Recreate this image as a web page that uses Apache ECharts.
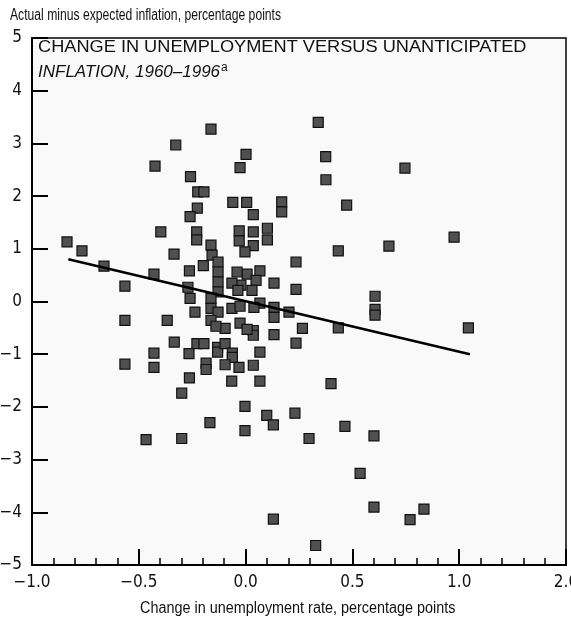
<!DOCTYPE html>
<html>
<head>
<meta charset="utf-8">
<script src="https://cdn.jsdelivr.net/npm/echarts@6/dist/echarts.min.js"></script>
<style>
  html, body { margin: 0; padding: 0; background: #ffffff; }
  #chart { width: 571px; height: 619px; }
</style>
</head>
<body>
<div id="chart"></div>
<script>
// ---- data ----
const changeUnemp = [
  -0.836, -0.766, -0.663, -0.565, -0.565, -0.565, -0.429, -0.429, -0.429, -0.397,
  -0.424, -0.335, -0.367, -0.334, -0.258, -0.224, -0.195, -0.162, -0.327, 0.002,
  -0.026, -0.226, -0.260, -0.060, 0.005, 0.036, -0.229, -0.229, -0.162, -0.030,
  -0.030, 0.036, 0.102, 0.102, 0.169, 0.169, 0.036, 0.340, 0.375, 0.376,
  0.473, 0.746, 0.976, 0.671, 0.434, 0.236, 0.067, 0.133, 0.236, 0.606,
  0.606, 0.606, 1.043, 0.434, 0.266, 0.203, 0.133, 0.133, 0.067, 0.133,
  0.236, 0.036, 0.036, 0.067, 0.036, 0.067, 0.400, 0.099, 0.130, 0.231,
  0.297, 0.465, 0.601, 0.536, 0.601, 0.835, 0.770, 0.130, 0.328, -0.228,
  -0.195, -0.265, -0.185, -0.185, -0.131, -0.131, -0.096, -0.062, -0.062, -0.096,
  -0.031, -0.065, -0.263, -0.299, -0.003, -0.167, -0.003, -0.466, -0.299, -0.198,
  -0.263, -0.237, -0.096, -0.270, -0.260, -0.157, -0.129, -0.129, -0.129, -0.129,
  -0.162, -0.162, -0.129, -0.162, -0.139, -0.003, 0.007, 0.049, -0.022, 0.030,
  -0.064, -0.036, -0.064, -0.026, 0.039, -0.026, 0.007, -0.040
];
const surpriseInfl = [
  1.13, 0.96, 0.67, 0.29, -0.36, -1.19, 0.52, -0.98, -1.25, 1.32,
  2.57, 0.90, -0.36, -0.77, 2.37, 2.08, 2.08, 3.27, 2.97, 2.79,
  2.54, 1.77, 1.61, 1.88, 1.88, 1.65, 1.32, 1.17, 1.07, 1.34,
  1.15, 1.32, 1.39, 1.17, 1.89, 1.70, 1.06, 3.40, 2.75, 2.31,
  1.83, 2.53, 1.22, 1.05, 0.96, 0.75, 0.58, 0.35, 0.23, 0.10,
  -0.15, -0.26, -0.50, -0.50, -0.51, -0.20, -0.11, -0.30, -0.03, -0.63,
  -0.79, -0.55, -0.64, -0.96, -1.21, -1.51, -1.56, -2.16, -2.34, -2.12,
  -2.60, -2.37, -2.55, -3.26, -3.90, -3.94, -4.14, -4.13, -4.63, -0.80,
  -0.80, -0.99, -1.17, -1.29, -0.87, -0.96, -0.80, -0.98, -1.06, -1.20,
  -1.25, -1.51, -1.45, -1.74, -1.99, -2.30, -2.45, -2.62, -2.60, 0.68,
  0.58, -0.20, -0.51, 0.27, 0.06, 0.88, 0.75, 0.56, 0.37, 0.18,
  0.06, -0.13, -0.20, -0.36, -0.47, 0.94, 0.52, 0.40, 0.31, 0.21,
  0.35, 0.21, -0.13, -0.09, -0.11, -0.41, -0.53, 0.56
];
const fitX = [-0.83, 1.05];
const fitY = [0.80, -1.00];
const xTickValues = [-1, -0.5, 0, 0.5, 1, 1.5];
const xTickLabels = ['\u22121.0', '\u22120.5', '0.0', '0.5', '1.0', '2.0'];
const yTickValues = [-5, -4, -3, -2, -1, 0, 1, 2, 3, 4, 5];
const yTickLabels = ['\u22125', '\u22124', '\u22123', '\u22122', '\u22121', '0', '1', '2', '3', '4', '5'];
const yAxisCaption = 'Actual minus expected inflation, percentage points';
const xAxisCaption = 'Change in unemployment rate, percentage points';
const titleLine1 = 'CHANGE IN UNEMPLOYMENT VERSUS UNANTICIPATED';
const titleLine2 = 'INFLATION, 1960\u20131996';
const titleNote = 'a';

// ---- build ----
const points = changeUnemp.map((x, i) => [x, surpriseInfl[i]]);
const fitLine = fitX.map((x, i) => [x, fitY[i]]);
const narrow = '"Liberation Sans Narrow", "DejaVu Sans Condensed", "Liberation Sans", sans-serif';
const sans = '"Liberation Sans", Arial, sans-serif';

const chart = echarts.init(document.getElementById('chart'), null, { renderer: 'canvas' });
chart.setOption({
  animation: false,
  backgroundColor: '#ffffff',
  grid: {
    left: 32, right: 5, top: 38, bottom: 54,
    outerBoundsMode: 'none', containLabel: false,
    show: true, backgroundColor: '#f9f9f9', borderColor: '#000', borderWidth: 1.5
  },
  xAxis: {
    type: 'value', min: -1, max: 1.5, interval: 0.5,
    axisLine: { show: true, onZero: false, lineStyle: { color: '#000', width: 2 } },
    axisTick: { show: true, inside: true, length: 16, lineStyle: { color: '#000', width: 2 } },
    minorTick: { show: true, splitNumber: 5, length: 7, lineStyle: { color: '#000', width: 1.5 } },
    splitLine: { show: false },
    axisLabel: {
      color: '#111', fontFamily: narrow, fontSize: 17, margin: 9,
      formatter: v => { const i = xTickValues.findIndex(t => Math.abs(t - v) < 1e-6); return i >= 0 ? xTickLabels[i] : ''; }
    }
  },
  yAxis: {
    type: 'value', min: -5, max: 5, interval: 1,
    axisLine: { show: true, onZero: false, lineStyle: { color: '#000', width: 2 } },
    axisTick: { show: true, inside: true, length: 16, lineStyle: { color: '#000', width: 2 } },
    splitLine: { show: false },
    axisLabel: {
      color: '#111', fontFamily: narrow, fontSize: 17, margin: 10,
      formatter: v => { const i = yTickValues.findIndex(t => Math.abs(t - v) < 1e-6); return i >= 0 ? yTickLabels[i] : ''; }
    }
  },
  graphic: [
    { type: 'text', x: 10, y: 8, scaleX: 0.76, style: { text: yAxisCaption, fill: '#111', font: '16px ' + sans } },
    { type: 'text', x: 140, y: 601, scaleX: 0.9, style: { text: xAxisCaption, fill: '#111', font: '16px ' + sans } },
    { type: 'text', x: 38, y: 39, scaleX: 1.07, style: { text: titleLine1, fill: '#111', font: '17px ' + sans } },
    { type: 'text', x: 38, y: 62, scaleX: 1.0, style: {
        text: '{i|' + titleLine2 + '}{s|' + titleNote + '}', fill: '#111',
        rich: {
          i: { fontFamily: sans, fontSize: 17, fontStyle: 'italic', fill: '#111' },
          s: { fontFamily: sans, fontSize: 12, fill: '#111', verticalAlign: 'top', padding: [0, 0, 9, 1] }
        }
    } }
  ],
  series: [
    {
      type: 'scatter', data: points, symbol: 'rect', symbolSize: 10,
      itemStyle: { color: '#505050', borderColor: '#111', borderWidth: 1.2, opacity: 1 },
      z: 3
    },
    {
      type: 'line', data: fitLine, symbol: 'none',
      lineStyle: { color: '#000', width: 2.5 }, z: 4
    }
  ]
});
</script>
</body>
</html>
